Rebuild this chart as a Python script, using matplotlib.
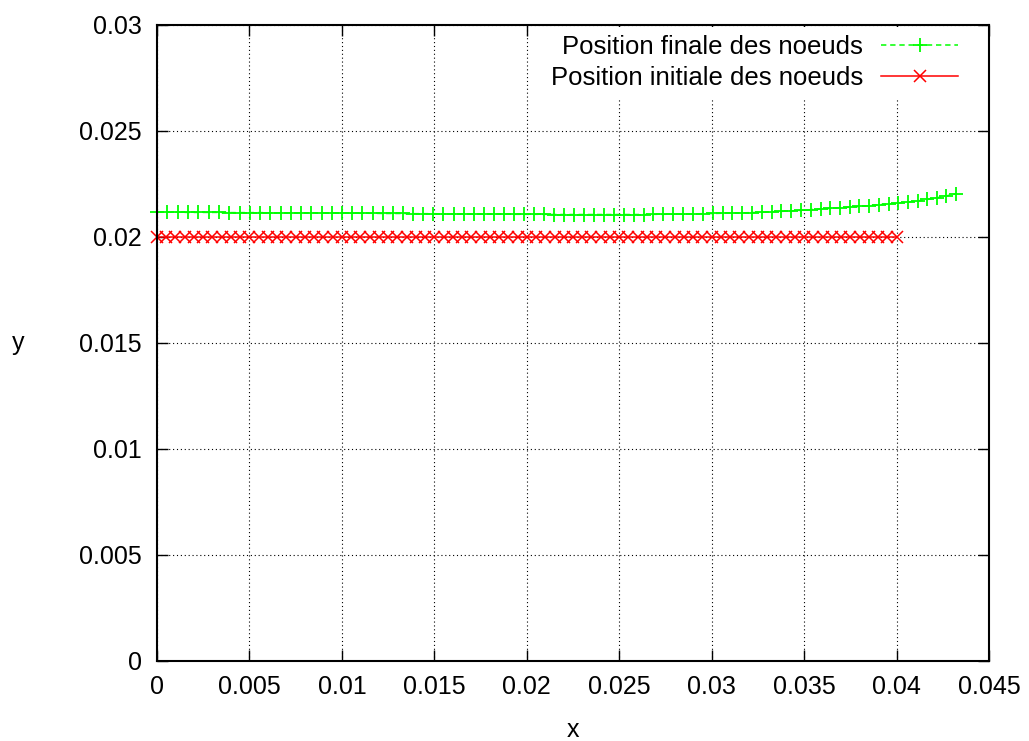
import matplotlib
matplotlib.use("Agg")
import matplotlib.pyplot as plt
import numpy as np

plt.rcParams['font.family'] = ['Liberation Sans', 'DejaVu Sans']
plt.rcParams['font.size'] = 18

# node positions, x in units of 1e-4, y in units of 1e-4
x_final = [0.0, 5.6, 11.2, 16.8, 22.4, 28.0, 33.5, 39.1, 44.7, 50.2,
           55.8, 61.3, 66.9, 72.4, 77.9, 83.5, 89.0, 94.5, 100.0, 105.5,
           111.1, 116.6, 122.0, 127.5, 133.0, 138.5, 144.0, 149.4, 154.9, 160.4,
           165.8, 171.3, 176.7, 182.2, 187.6, 193.0, 198.5, 203.9, 209.3, 214.7,
           220.1, 225.5, 230.9, 236.3, 241.7, 247.1, 252.4, 257.8, 263.2, 268.5,
           273.9, 279.2, 284.6, 289.9, 295.2, 300.6, 305.9, 311.2, 316.5, 321.8,
           327.2, 332.5, 337.7, 343.0, 348.3, 353.6, 358.9, 364.1, 369.4, 374.7,
           379.9, 385.2, 390.4, 395.7, 400.9, 406.1, 411.4, 416.6, 421.8, 427.0,
           432.2]
y_final = [211.7, 211.7, 211.7, 211.6, 211.6, 211.6, 211.6, 211.5, 211.5, 211.5,
           211.5, 211.4, 211.4, 211.4, 211.4, 211.4, 211.3, 211.3, 211.3, 211.2,
           211.2, 211.2, 211.1, 211.1, 211.1, 211.0, 211.0, 211.0, 210.9, 210.9,
           210.9, 210.8, 210.8, 210.8, 210.8, 210.7, 210.7, 210.7, 210.7, 210.6,
           210.6, 210.6, 210.6, 210.6, 210.6, 210.6, 210.6, 210.6, 210.6, 210.7,
           210.7, 210.8, 210.8, 210.9, 211.0, 211.1, 211.2, 211.3, 211.4, 211.5,
           211.7, 211.9, 212.1, 212.3, 212.6, 212.9, 213.2, 213.5, 213.8, 214.1,
           214.4, 214.8, 215.2, 215.6, 216.0, 216.5, 217.0, 217.7, 218.5, 219.4,
           220.4]
x_init = [0, 5, 10, 15, 20, 25, 30, 35, 40, 45, 50, 55, 60, 65, 70, 75, 80,
          85, 90, 95, 100, 105, 110, 115, 120, 125, 130, 135, 140, 145, 150,
          155, 160, 165, 170, 175, 180, 185, 190, 195, 200, 205, 210, 215, 220,
          225, 230, 235, 240, 245, 250, 255, 260, 265, 270, 275, 280, 285, 290,
          295, 300, 305, 310, 315, 320, 325, 330, 335, 340, 345, 350, 355, 360,
          365, 370, 375, 380, 385, 390, 395, 400]
y_init = [0.02] * len(x_init)

x_ticks = [0, 0.005, 0.01, 0.015, 0.02, 0.025, 0.03, 0.035, 0.04, 0.045]
x_ticklabels = ['0', '0.005', '0.01', '0.015', '0.02', '0.025', '0.03', '0.035', '0.04', '0.045']
y_ticks = [0, 0.005, 0.01, 0.015, 0.02, 0.025, 0.03]
y_ticklabels = ['0', '0.005', '0.01', '0.015', '0.02', '0.025', '0.03']

fig = plt.figure(figsize=(10.29, 7.41), dpi=100)
ax = fig.add_axes([157 / 1029, 1 - 661 / 741, 832 / 1029, 636 / 741])

ax.plot(np.array(x_final) * 1e-4, np.array(y_final) * 1e-4, color='#00ff00',
        linestyle=(0, (3.5, 2.5)), linewidth=1.1, marker='+', markersize=10,
        markeredgewidth=1.3, label='Position finale des noeuds', clip_on=False, zorder=3)
ax.plot(np.array(x_init) * 1e-4, y_init, color='#ff0000', linestyle='-',
        linewidth=1.1, marker='x', markersize=8.5, markeredgewidth=1.1,
        label='Position initiale des noeuds', clip_on=False, zorder=3)

ax.set_xlim(0, 0.045)
ax.set_ylim(0, 0.03)
ax.set_xticks(x_ticks)
ax.set_xticklabels(x_ticklabels)
ax.set_yticks(y_ticks)
ax.set_yticklabels(y_ticklabels)

ax.grid(True, color='black', linestyle=(0, (1, 2.5)), linewidth=0.8)
ax.tick_params(direction='in', length=8, width=1, top=True, right=True, color='black')
ax.tick_params(axis='x', pad=10)
ax.tick_params(axis='y', pad=11)
for s in ax.spines.values():
    s.set_linewidth(1.5)
    s.set_zorder(6)

ax.set_xlabel('x', va='center')
ax.xaxis.set_label_coords(0.5, -0.108)
ax.set_ylabel('y', rotation=0, ha='center', va='center')
ax.yaxis.set_label_coords(-0.167, 0.5)

leg = ax.legend(loc='upper right', bbox_to_anchor=(966 / 1029, 1 - 27 / 741),
                bbox_transform=fig.transFigure, frameon=True, fancybox=False,
                facecolor='white', edgecolor='none', framealpha=1,
                markerfirst=False, numpoints=1, handlelength=3.0,
                handletextpad=0.7, labelspacing=0.28, borderpad=0.3,
                borderaxespad=0, prop={'size': 18.5})

fig.savefig('out.png', dpi=100)
